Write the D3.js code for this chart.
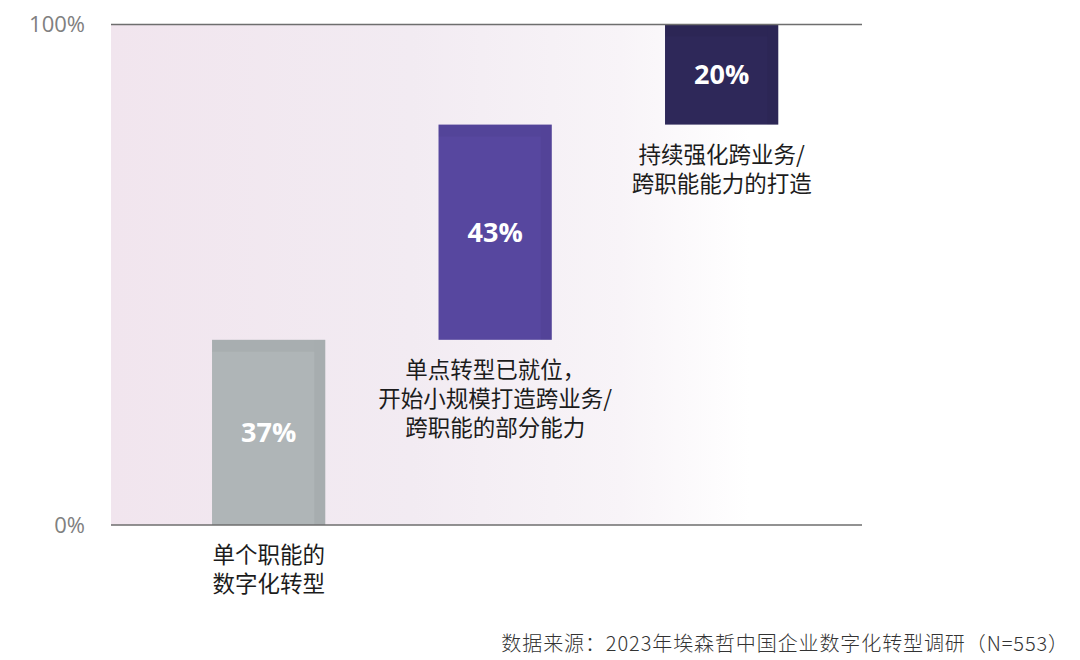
<!DOCTYPE html>
<html>
<head>
<meta charset="utf-8">
<script src="https://cdn.jsdelivr.net/npm/d3@7"></script>
<style>
  html, body { margin: 0; padding: 0; background: #fff; }
  svg { display: block; }
</style>
</head>
<body>
<svg id="chart" width="1080" height="660"></svg>
<script>
// Waterfall of digital transformation stages (share of respondents, %)
const categories = [
  ["单个职能的", "数字化转型"],
  ["单点转型已就位，", "开始小规模打造跨业务/", "跨职能的部分能力"],
  ["持续强化跨业务/", "跨职能能力的打造"]
];
const values = [37, 43, 20];
const barColors = ["#afb5b7", "#57479f", "#2e2859"];
const yTicks = [0, 100];
const sourceNote = "数据来源：2023年埃森哲中国企业数字化转型调研（N=553）";

const svg = d3.select("#chart");
const plot = { left: 111, right: 862, top: 24.5, bottom: 525 };

// cumulative start/end of each step
let acc = 0;
const steps = values.map((v, i) => {
  const s = { i, v, start: acc, end: acc + v };
  acc += v;
  return s;
});

const y = d3.scaleLinear().domain([0, 100]).range([plot.bottom, plot.top]);
const x = d3.scaleBand()
  .domain(d3.range(values.length))
  .range([155.4, 834.9])
  .paddingInner(0.5)
  .paddingOuter(0.25);

// background wash
const defs = svg.append("defs");
const grad = defs.append("linearGradient").attr("id", "bgwash")
  .attr("x1", "0%").attr("x2", "100%").attr("y1", "0%").attr("y2", "0%");
grad.append("stop").attr("offset", "0%").attr("stop-color", "#f1e5ee");
grad.append("stop").attr("offset", "40%").attr("stop-color", "#f2ebf2");
grad.append("stop").attr("offset", "68%").attr("stop-color", "#f8f4f8");
grad.append("stop").attr("offset", "85%").attr("stop-color", "#ffffff");
grad.append("stop").attr("offset", "100%").attr("stop-color", "#ffffff");

svg.append("rect")
  .attr("x", plot.left).attr("y", y(100))
  .attr("width", plot.right - plot.left).attr("height", y(0) - y(100))
  .attr("fill", "url(#bgwash)");

// bars
const bars = svg.append("g").selectAll("g").data(steps).join("g");
bars.append("rect")
  .attr("x", d => x(d.i))
  .attr("y", d => y(d.end))
  .attr("width", x.bandwidth())
  .attr("height", d => y(d.start) - y(d.end))
  .attr("fill", d => barColors[d.i]);
// subtle darker edge along the top and right of each bar
bars.append("rect")
  .attr("x", d => x(d.i) + x.bandwidth() - 11)
  .attr("y", d => y(d.end))
  .attr("width", 11)
  .attr("height", d => y(d.start) - y(d.end))
  .attr("fill", "#000").attr("opacity", 0.045);
bars.append("rect")
  .attr("x", d => x(d.i))
  .attr("y", d => y(d.end))
  .attr("width", x.bandwidth() - 11)
  .attr("height", 12)
  .attr("fill", "#000").attr("opacity", 0.035);

// value labels
bars.append("text")
  .attr("x", d => x(d.i) + x.bandwidth() / 2)
  .attr("y", d => (y(d.start) + y(d.end)) / 2)
  .attr("dy", "0.36em")
  .attr("text-anchor", "middle")
  .attr("font-family", "'Open Sans', Lato, sans-serif")
  .attr("font-weight", 700)
  .attr("font-size", 27)
  .attr("fill", "#ffffff")
  .text(d => d.v + "%");

// axis labels at 0% and 100%
const axis = d3.axisLeft(y).tickValues(yTicks).tickSize(0).tickPadding(26)
  .tickFormat(d => d + "%");
const gAxis = svg.append("g").attr("transform", `translate(${plot.left},0)`).call(axis);
gAxis.select(".domain").remove();
gAxis.selectAll("text")
  .attr("font-family", "'Open Sans', Lato, sans-serif")
  .attr("font-weight", 400)
  .attr("font-size", 22)
  .attr("fill", "#808080");

svg.append("g").selectAll("line").data(yTicks).join("line")
  .attr("x1", plot.left).attr("x2", plot.right)
  .attr("y1", d => y(d)).attr("y2", d => y(d))
  .attr("stroke", "#6e6e6e").attr("stroke-width", 1.3);

// category labels: below each bar
const lineH = 29;
const labels = svg.append("g").selectAll("text").data(steps).join("text")
  .attr("text-anchor", "middle")
  .attr("font-family", "'Noto Sans CJK SC', sans-serif")
  .attr("font-size", 22.5)
  .attr("fill", "#1c1c1c")
  .attr("transform", d => `translate(${x(d.i) + x.bandwidth() / 2},${y(d.start) + 38})`);
labels.selectAll("tspan").data(d => categories[d.i]).join("tspan")
  .attr("x", 0)
  .attr("y", (d, k) => k * lineH)
  .text(d => d);

// source note
svg.append("text")
  .attr("x", 1069).attr("y", 651)
  .attr("text-anchor", "end")
  .attr("font-family", "'Noto Sans CJK SC', sans-serif")
  .attr("font-weight", 300)
  .attr("font-size", 20)
  .attr("letter-spacing", 0.9)
  .attr("fill", "#333333")
  .text(sourceNote);
</script>
</body>
</html>
